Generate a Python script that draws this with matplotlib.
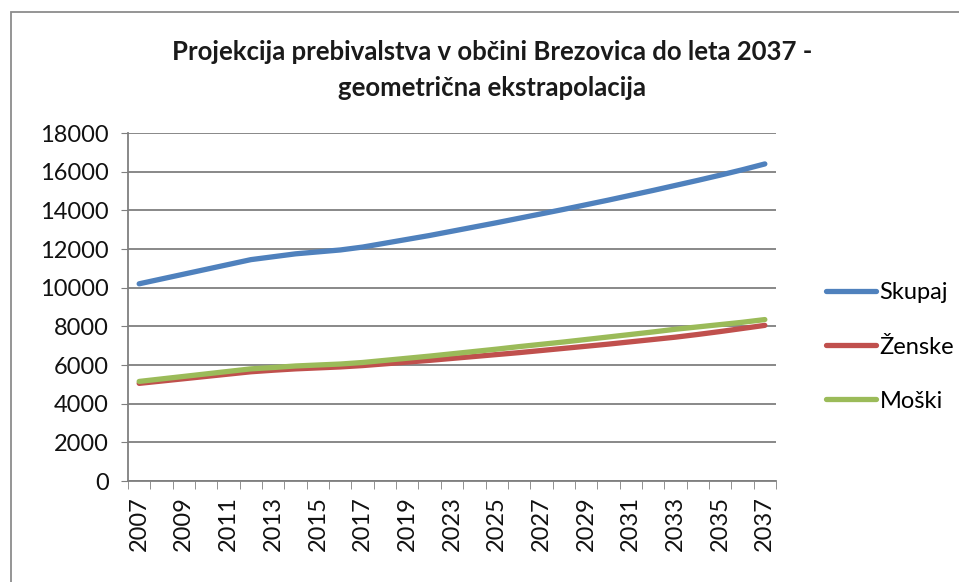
import matplotlib.pyplot as plt
from matplotlib.patches import Rectangle

# category years (one year missing between 2019 and 2023 in the source table)
years = [2007, 2008, 2009, 2010, 2011, 2012, 2013, 2014, 2015, 2016, 2017,
         2018, 2019, 2021, 2023, 2024, 2025, 2026, 2027, 2028, 2029, 2030,
         2031, 2032, 2033, 2034, 2035, 2036, 2037]

skupaj = [10200, 10450, 10700, 10950, 11200, 11450, 11600, 11750, 11850, 11950,
          12100, 12300, 12500, 12700, 12920, 13140, 13360, 13590, 13820, 14050,
          14290, 14530, 14780, 15030, 15290, 15550, 15820, 16100, 16400]
zenske = [5050, 5170, 5290, 5410, 5530, 5650, 5730, 5800, 5850, 5900,
          5970, 6060, 6150, 6240, 6340, 6440, 6540, 6640, 6750, 6860,
          6970, 7080, 7200, 7320, 7440, 7580, 7730, 7890, 8050]
moski = [5150, 5280, 5410, 5540, 5670, 5800, 5870, 5950, 6000, 6050,
         6130, 6240, 6350, 6460, 6580, 6700, 6820, 6950, 7070, 7190,
         7320, 7450, 7580, 7710, 7850, 7970, 8090, 8210, 8350]

y_ticks = [0, 2000, 4000, 6000, 8000, 10000, 12000, 14000, 16000, 18000]

plt.rcParams['font.family'] = ['Lato', 'DejaVu Sans']

W, H = 959, 582
fig = plt.figure(figsize=(W / 100, H / 100), dpi=100)
fig.patch.set_facecolor('white')

# chart area border (runs off the scan at right and bottom)
fig.patches.append(Rectangle((11 / W, -0.1), 1.2, 1 - 12 / H + 0.1,
                             transform=fig.transFigure, fill=False,
                             edgecolor='#8c8c8c', linewidth=1.3))

ax = fig.add_axes([128 / W, 1 - 481 / H, (776 - 128) / W, (481 - 133) / H])

x = list(range(len(years)))
ax.plot(x, skupaj, color='#4F81BD', linewidth=3.8, solid_capstyle='round', label='Skupaj', zorder=3)
ax.plot(x, zenske, color='#C0504D', linewidth=3.8, solid_capstyle='round', label='Ženske', zorder=3)
ax.plot(x, moski, color='#9BBB59', linewidth=3.8, solid_capstyle='round', label='Moški', zorder=4)

ax.set_xlim(-0.5, len(years) - 0.5)
ax.set_ylim(0, 18000)
ax.set_yticks(y_ticks)
ax.set_yticklabels([str(v) for v in y_ticks], fontsize=17, color='#111111')
ax.yaxis.grid(True, color='#7f7f7f', linewidth=1.3)
ax.set_axisbelow(True)

ax.set_xticks(x[::2])
ax.set_xticklabels([str(years[i]) for i in x[::2]], rotation=90, fontsize=17, color='#111111')
ax.set_xticks([i - 0.5 for i in range(len(years) + 1)], minor=True)
ax.tick_params(axis='x', which='major', length=0, pad=11)
ax.tick_params(axis='x', which='minor', length=6, color='#7f7f7f')
ax.tick_params(axis='y', length=5, color='#7f7f7f', pad=9)

for s in ['top', 'right']:
    ax.spines[s].set_visible(False)
for s in ['left', 'bottom']:
    ax.spines[s].set_color('#7f7f7f')
    ax.spines[s].set_linewidth(1.3)

fig.text(0.513, 1 - 52 / H, 'Projekcija prebivalstva v občini Brezovica do leta 2037 -',
         ha='center', va='center', fontsize=18.5, fontweight='bold', color='#1a1a1a')
fig.text(0.513, 1 - 88 / H, 'geometrična ekstrapolacija',
         ha='center', va='center', fontsize=18.5, fontweight='bold', color='#1a1a1a')

fig.legend(loc='center left', bbox_to_anchor=(805 / W, 1 - 347 / H), frameon=False,
           fontsize=17, handlelength=2.1, handletextpad=0.15, labelspacing=1.4)

fig.savefig('out.png', dpi=100)
